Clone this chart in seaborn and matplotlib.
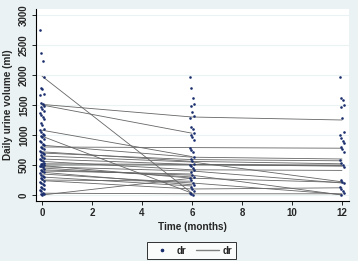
import numpy as np
import pandas as pd
import matplotlib
matplotlib.use("Agg")
import matplotlib.pyplot as plt
from matplotlib.lines import Line2D
import seaborn as sns

# ---- data ----
months = [0, 6, 12]
dots_m0 = [2750, 2370, 2230, 1970, 1790, 1760, 1690, 1660, 1530, 1510, 1490, 1470, 1440, 1400,
           1370, 1330, 1300, 1260, 1200, 1160, 1100, 1080, 1050, 1020, 1000, 980, 960, 930, 900,
           880, 850, 830, 800, 780, 760, 740, 720, 700, 680, 660, 640, 620, 600, 580, 560, 540,
           520, 510, 500, 490, 480, 460, 440, 420, 400, 380, 360, 340, 320, 300, 280, 260, 240,
           220, 200, 180, 160, 140, 120, 100, 80, 60, 40, 20, 10, 0]
dots_m6 = [1970, 1780, 1620, 1520, 1480, 1380, 1320, 1280, 1130, 1100, 1030, 1000, 960, 920,
           780, 750, 720, 630, 600, 560, 520, 500, 480, 450, 420, 380, 340, 300, 280, 250, 200,
           170, 130, 100, 60, 30, 10, 0]
dots_m12 = [1970, 1620, 1580, 1500, 1470, 1280, 1050, 1000, 950, 900, 870, 800, 760, 720, 580,
            540, 500, 470, 250, 220, 200, 130, 100, 60, 30, 0]

# per-subject trajectories (month 0, month 6, month 12)
subj_m0 = [1980, 1510, 1500, 1080, 980, 830, 800, 720, 650, 600, 520, 500, 490, 470, 450,
           420, 400, 380, 350, 300, 250, 240, 0, 30, 560, 700]
subj_m6 = [30, 1300, 1030, 640, 30, 630, 790, 560, 550, 510, 510, 500, 280, 400, 300,
           330, 350, 170, 200, 150, 230, 100, 280, 20, 420, 590]
subj_m12 = [np.nan, 1250, np.nan, np.nan, np.nan, 600, 780, 520, 220, 500, 480, 490, 210,
            200, np.nan, 0, np.nan, np.nan, 10, np.nan, np.nan, 120, np.nan, 20, 410, 570]

yticks = [0, 500, 1000, 1500, 2000, 2500, 3000]
xticks = [0, 2, 4, 6, 8, 10, 12]

# ---- build tables ----
jit = [-0.09, -0.03, 0.03, 0.09, -0.06, 0.0, 0.06]
rows = []
for m, vals in zip(months, [dots_m0, dots_m6, dots_m12]):
    for i, v in enumerate(vals):
        rows.append({"time": m + jit[i % len(jit)], "dr": v})
dots = pd.DataFrame(rows)

lrows = []
for sid, (a, b, c) in enumerate(zip(subj_m0, subj_m6, subj_m12)):
    for m, v in zip(months, [a, b, c]):
        lrows.append({"id": sid, "time": m, "dr": v})
lines = pd.DataFrame(lrows).dropna()

# ---- figure ----
bg = "#EAF2F3"
sns.set_style("white")
plt.rcParams["font.family"] = ["Liberation Sans", "DejaVu Sans"]
fig = plt.figure(figsize=(3.58, 2.61), dpi=100, facecolor=bg)
ax = fig.add_axes([36 / 358, 1 - 201 / 261, (349 - 36) / 358, (201 - 9) / 261])
ax.set_facecolor("white")

for y in yticks:
    ax.axhline(y, color=bg, lw=0.8, zorder=0)

sns.lineplot(data=lines, x="time", y="dr", units="id", estimator=None, color="#666666",
             lw=0.6, ax=ax, legend=False, zorder=2)
sns.scatterplot(data=dots, x="time", y="dr", color="#1a2e6e", s=3.5, linewidth=0, ax=ax,
                legend=False, zorder=3)

ax.set_xlim(-0.24, 12.28)
ax.set_ylim(-100, 3100)
ax.set_xticks(xticks)
ax.set_yticks(yticks)
ax.set_xticklabels([str(x) for x in xticks], fontsize=7, fontweight="bold")
ax.set_yticklabels([str(y) for y in yticks], fontsize=7, rotation=90, va="center",
                   fontweight="bold")
ax.tick_params(axis="both", direction="out", length=3, width=0.6, color="black", pad=2,
               left=True, bottom=True)
for s in ["top", "right"]:
    ax.spines[s].set_visible(False)
for s in ["left", "bottom"]:
    ax.spines[s].set_color("black")
    ax.spines[s].set_linewidth(0.8)
ax.set_xlabel("Time (months)", fontsize=7.2, labelpad=3, fontweight="bold")
ax.set_ylabel("Daily urine volume (ml)", fontsize=7.2, labelpad=4, fontweight="bold")

handles = [Line2D([], [], marker="o", color="#1a2e6e", ls="none", markersize=1.6),
           Line2D([], [], color="#808080", lw=1.0)]
leg = fig.legend(handles, ["dr", "dr"], loc="center", bbox_to_anchor=(191.5 / 358, 1 - 250.5 / 261),
                 ncol=2, frameon=True, fancybox=False, edgecolor="black",
                 prop={"size": 7, "weight": "bold"},
                 handlelength=2.3, columnspacing=1.0, handletextpad=0.4, borderpad=0.35)
leg.get_frame().set_linewidth(0.7)

fig.savefig("out.png", dpi=100, facecolor=bg)
